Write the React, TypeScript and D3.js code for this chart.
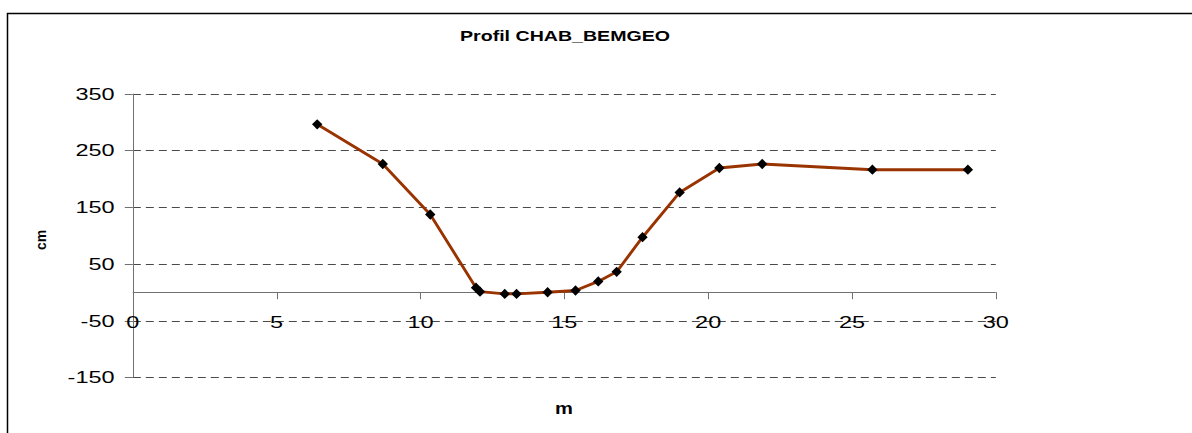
import React from "react";
import * as d3 from "d3";

const xValues: number[] = [6.41, 8.69, 10.34, 11.93, 12.07, 12.93, 13.34, 14.42, 15.39, 16.18, 16.82, 17.72, 19.01, 20.39, 21.88, 25.71, 29.03];
const yValues: number[] = [296, 226, 137, 8, 1, -3, -3, 0, 3, 19, 36, 97, 176, 219, 226, 216, 216];
const xTicks: number[] = [0, 5, 10, 15, 20, 25, 30];
const yTicks: number[] = [-150, -50, 50, 150, 250, 350];
const chartTitle = "Profil CHAB_BEMGEO";
const xTitle = "m";
const yTitle = "cm";

const W = 1192;
const H = 433;
const FONT = "Arial, 'Liberation Sans', sans-serif";

export default function App() {
  const x = d3.scaleLinear().domain([0, 30]).range([132.8, 995.8]);
  const y = d3.scaleLinear().domain([-150, 350]).range([377.3, 93.7]);
  const pts = xValues.map((v, i) => [v, yValues[i]] as [number, number]);
  const line = d3
    .line<[number, number]>()
    .x((d) => x(d[0]))
    .y((d) => y(d[1]));
  const diamond = d3.symbol().type(d3.symbolDiamond2).size(68)();
  const x0 = x(0);
  const y0 = y(0);
  const xEnd = x(30);
  const sx = 1.38;

  return (
    <svg
      width={W}
      height={H}
      style={{ position: "absolute", left: 0, top: 0, background: "#fff" }}
      fontFamily={FONT}
    >
      <rect x={0} y={0} width={W} height={H} fill="#fff" />
      <rect x={7.5} y={13.5} width={W + 20} height={H + 20} fill="none" stroke="#000" strokeWidth={1.5} />
      {/* title */}
      <text x={460} y={40.5} fontSize={15.5} fontWeight="bold" textLength={210} lengthAdjust="spacingAndGlyphs" fill="#000">
        {chartTitle}
      </text>
      {/* gridlines */}
      {yTicks.map((t) => (
        <line
          key={"g" + t}
          x1={x0}
          x2={xEnd}
          y1={Math.round(y(t)) + 0.5}
          y2={Math.round(y(t)) + 0.5}
          stroke="#4a4a4a"
          strokeWidth={1}
          strokeDasharray="8,5"
        />
      ))}
      {/* y axis */}
      <line x1={Math.round(x0) + 0.5} x2={Math.round(x0) + 0.5} y1={y(350)} y2={y(-150)} stroke="#707070" strokeWidth={1} />
      {yTicks.map((t) => (
        <line
          key={"yt" + t}
          x1={x0 - 8}
          x2={x0}
          y1={Math.round(y(t)) + 0.5}
          y2={Math.round(y(t)) + 0.5}
          stroke="#707070"
          strokeWidth={1}
        />
      ))}
      {yTicks.map((t) => (
        <g key={"yl" + t} transform={`translate(114.5,${y(t) + 6}) scale(${sx},1)`}>
          <text textAnchor="end" fontSize={17} fill="#000">
            {t}
          </text>
        </g>
      ))}
      {/* x axis */}
      <line x1={x0} x2={xEnd} y1={Math.round(y0) + 0.5} y2={Math.round(y0) + 0.5} stroke="#707070" strokeWidth={1} />
      {xTicks.map((t) => (
        <line
          key={"xt" + t}
          x1={Math.round(x(t)) + 0.5}
          x2={Math.round(x(t)) + 0.5}
          y1={y0}
          y2={y0 + 7}
          stroke="#707070"
          strokeWidth={1}
        />
      ))}
      {xTicks.map((t) => (
        <g key={"xl" + t} transform={`translate(${x(t)},327.5) scale(${sx},1)`}>
          <text textAnchor="middle" fontSize={17} fill="#000">
            {t}
          </text>
        </g>
      ))}
      {/* axis titles */}
      <g transform="translate(564,414.3) scale(1.22,1)">
        <text textAnchor="middle" fontSize={16.5} fontWeight="bold" fill="#000">
          {xTitle}
        </text>
      </g>
      <g transform="translate(46,240) rotate(-90)">
        <text textAnchor="middle" fontSize={14} fontWeight="bold" fill="#000">
          {yTitle}
        </text>
      </g>
      {/* series */}
      <path d={line(pts) || ""} fill="none" stroke="#993300" strokeWidth={2.9} strokeLinejoin="round" />
      {pts.map((d, i) => (
        <path key={"m" + i} d={diamond || ""} transform={`translate(${x(d[0])},${y(d[1])})`} fill="#000" />
      ))}
    </svg>
  );
}
